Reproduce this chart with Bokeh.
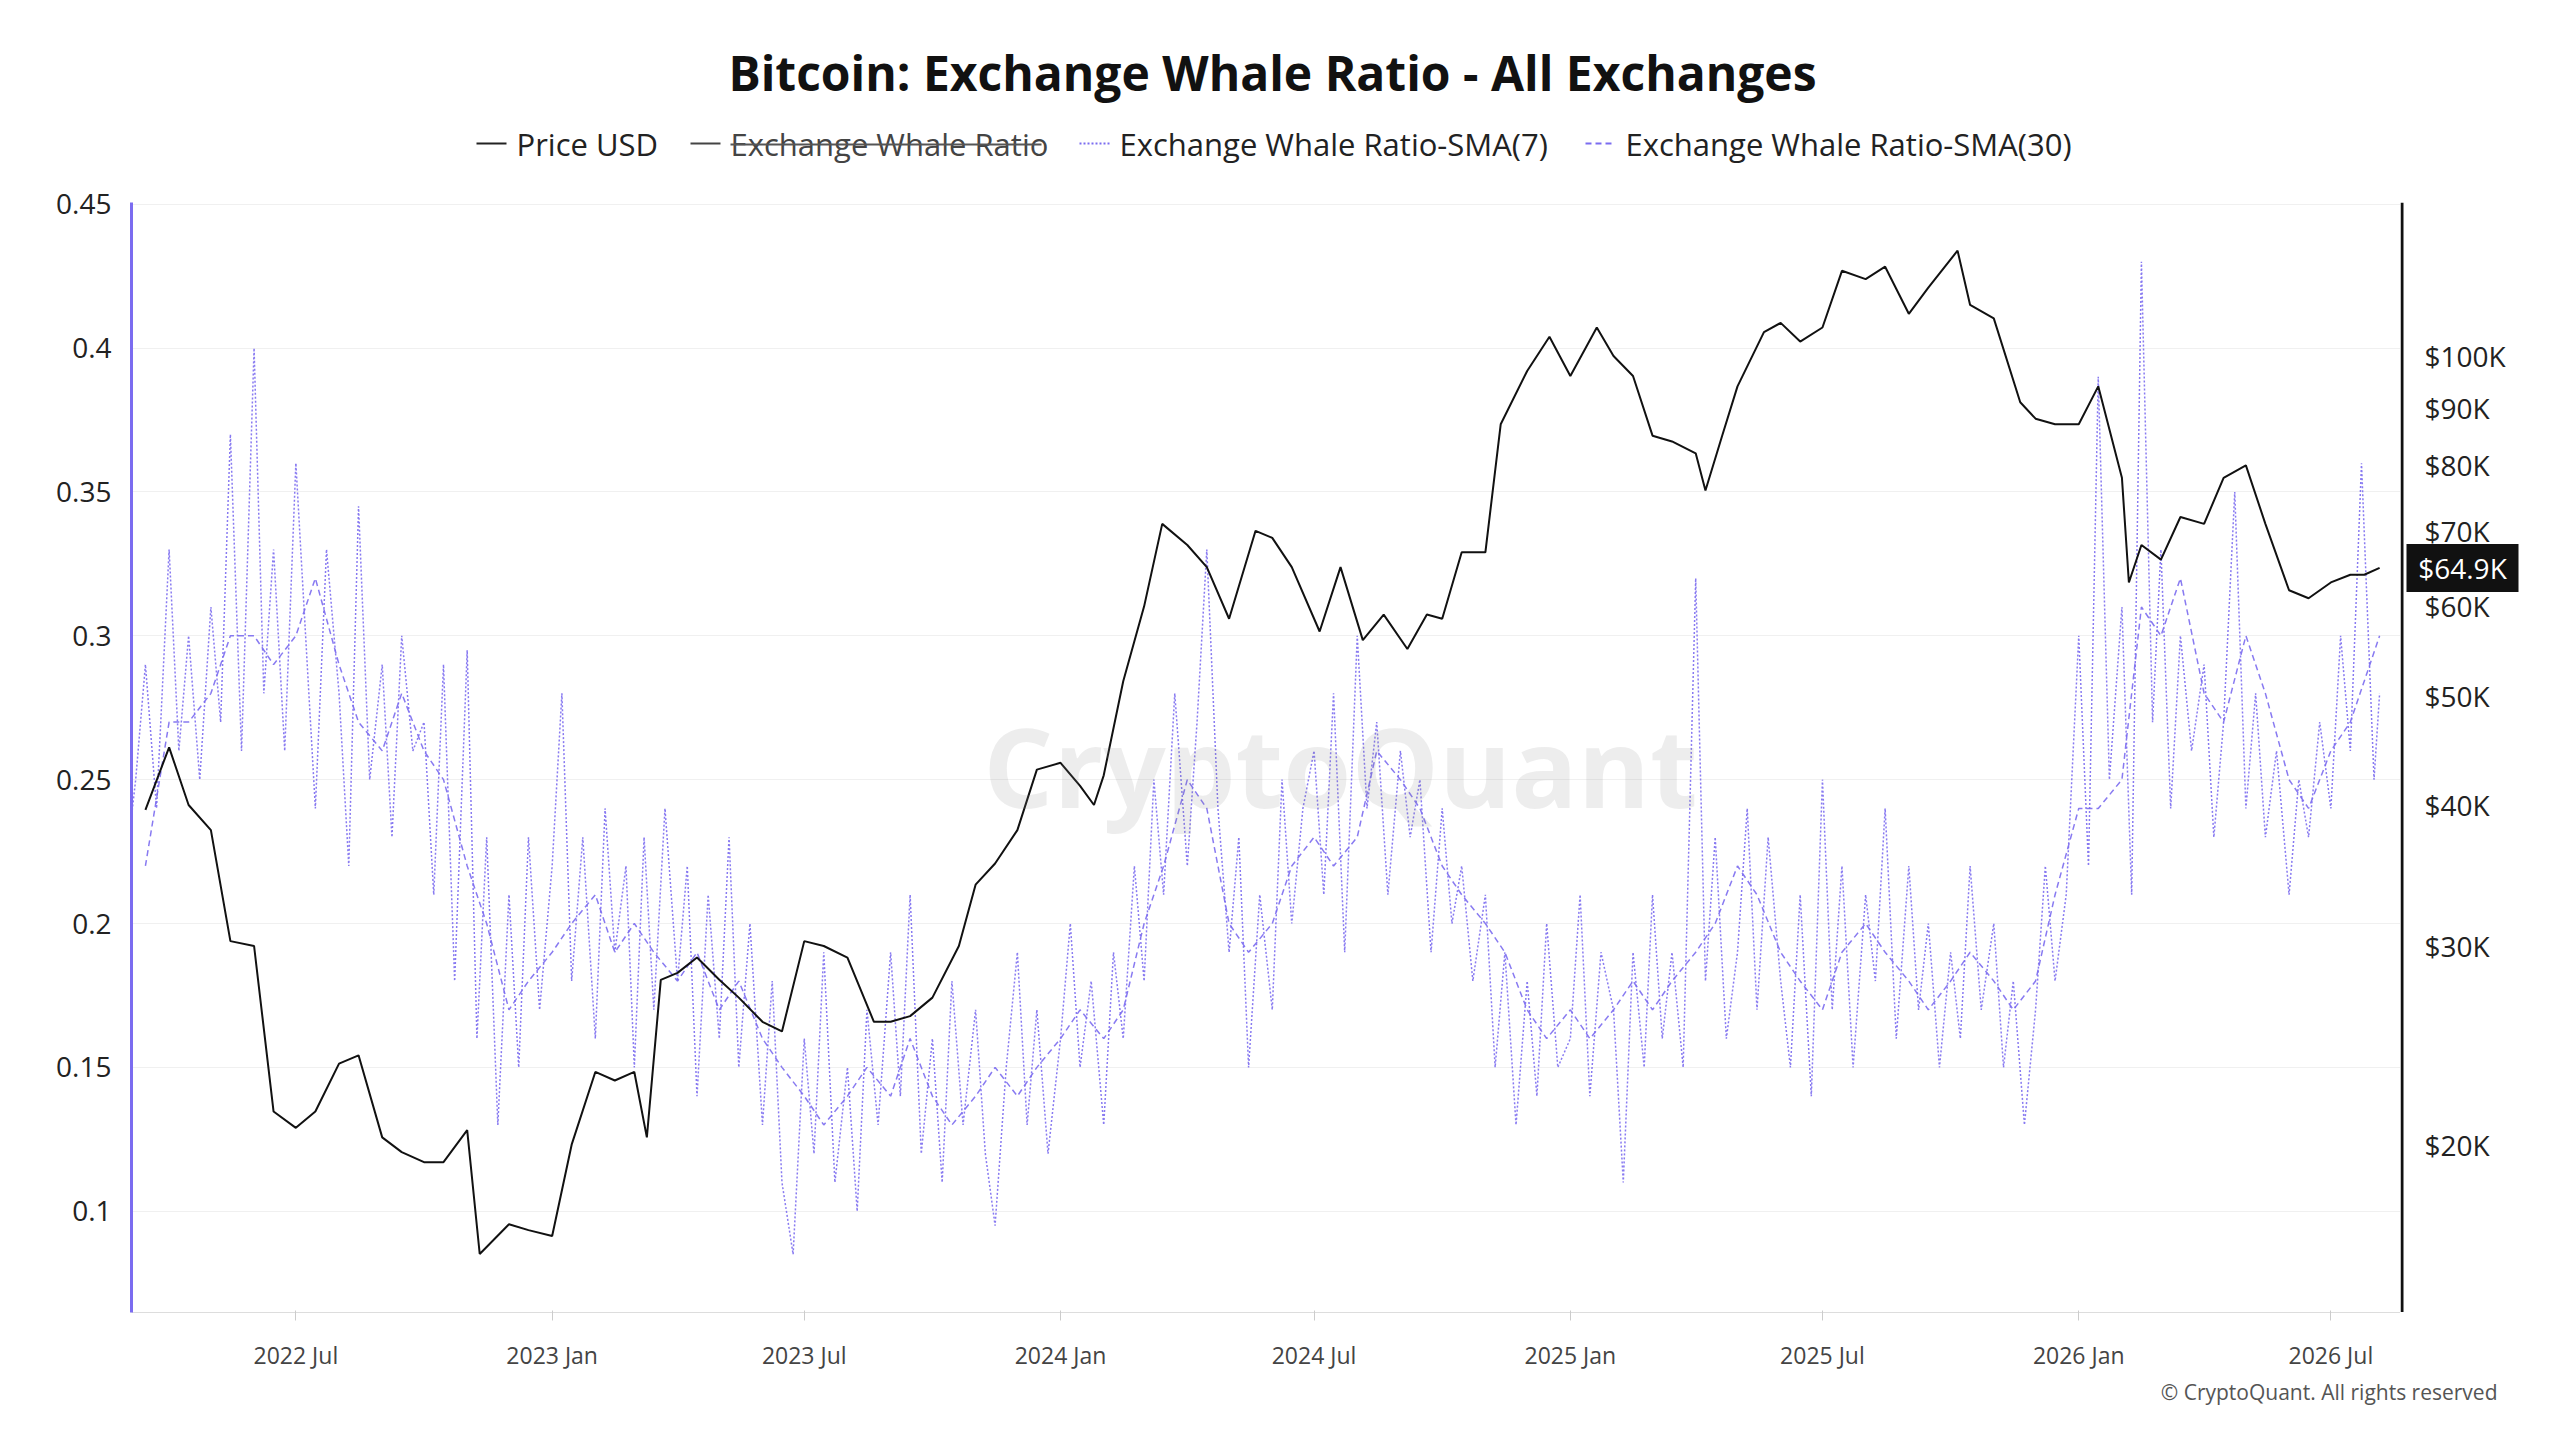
import pandas as pd
from bokeh.plotting import figure
from bokeh.layouts import column, row
from bokeh.core.properties import value
from bokeh.models import (Range1d, LogScale, FixedTicker, DatetimeTickFormatter, Label, Span)
from bokeh.embed import file_html
from bokeh.resources import INLINE

price_dates = ["2022-03-15","2022-04-01","2022-04-15","2022-05-01","2022-05-15","2022-06-01","2022-06-15","2022-07-01","2022-07-15","2022-08-01","2022-08-15","2022-09-01","2022-09-15","2022-10-01","2022-10-15","2022-11-01","2022-11-10","2022-12-01","2022-12-15","2023-01-01","2023-01-15","2023-02-01","2023-02-15","2023-03-01","2023-03-10","2023-03-20","2023-04-01","2023-04-15","2023-05-01","2023-05-15","2023-06-01","2023-06-15","2023-07-01","2023-07-15","2023-08-01","2023-08-20","2023-09-01","2023-09-15","2023-10-01","2023-10-20","2023-11-01","2023-11-15","2023-12-01","2023-12-15","2024-01-01","2024-01-15","2024-01-25","2024-02-01","2024-02-15","2024-03-01","2024-03-14","2024-04-01","2024-04-15","2024-05-01","2024-05-20","2024-06-01","2024-06-15","2024-07-05","2024-07-20","2024-08-05","2024-08-20","2024-09-06","2024-09-20","2024-10-01","2024-10-15","2024-11-01","2024-11-12","2024-12-01","2024-12-17","2025-01-01","2025-01-20","2025-02-01","2025-02-15","2025-03-01","2025-03-15","2025-04-01","2025-04-08","2025-04-20","2025-05-01","2025-05-20","2025-06-01","2025-06-15","2025-07-01","2025-07-15","2025-08-01","2025-08-15","2025-09-01","2025-09-15","2025-10-06","2025-10-15","2025-11-01","2025-11-20","2025-12-01","2025-12-15","2026-01-01","2026-01-15","2026-02-01","2026-02-06","2026-02-15","2026-03-01","2026-03-15","2026-04-01","2026-04-15","2026-05-01","2026-05-15","2026-06-01","2026-06-15","2026-07-01","2026-07-15","2026-07-25","2026-08-05"]
price_k = [39.6,45,40,38,30.3,30,21.4,20.7,21.4,23.6,24,20.3,19.7,19.3,19.3,20.6,16.0,17,16.8,16.6,20,23.2,22.8,23.2,20.3,28,28.4,29.3,28,27,25.7,25.2,30.3,30,29.3,25.7,25.7,26,27,30,34,35.5,38,43,43.6,41.6,40,42.5,51.5,60,71,68,65,58.5,70,69,65,57,65,56,59,55,59,58.5,67,67,87,97,104,96,106,100,96,85,84,82,76,85,94,105,107,103,106,119,117,120,109,115,124,111,108,91,88,87,87,94,78,63,68,66,72,71,78,80,71,62,61,63,64,64,64.9]

sma30_dates = ["2022-03-15"] + [f"{y}-{m:02d}-{d:02d}" for y in range(2022, 2027) for m in range(1, 13) for d in (1, 15)
                                if (y, m) >= (2022, 4) and (y, m) <= (2026, 7)] + ["2026-08-05"]
sma30 = [0.22,0.27,0.27,0.28,0.30,0.30,0.29,0.30,0.32,0.29,0.27,0.26,0.28,0.26,0.25,0.22,0.20,0.17,0.18,
         0.19,0.20,0.21,0.19,0.20,0.19,0.18,0.19,0.17,0.18,0.16,0.15,0.14,0.13,0.14,0.15,0.14,0.16,0.14,0.13,0.14,0.15,0.14,0.15,
         0.16,0.17,0.16,0.17,0.20,0.22,0.25,0.24,0.20,0.19,0.20,0.22,0.23,0.22,0.23,0.26,0.25,0.24,0.22,0.21,0.20,0.19,0.17,0.16,
         0.17,0.16,0.17,0.18,0.17,0.18,0.19,0.20,0.22,0.21,0.19,0.18,0.17,0.19,0.20,0.19,0.18,0.17,0.18,0.19,0.18,0.17,0.18,0.21,
         0.24,0.24,0.25,0.31,0.30,0.32,0.28,0.27,0.30,0.28,0.25,0.24,0.26,0.27,0.30]

sma7_dates = [f"{y}-{m:02d}-{d:02d}" for y in range(2022, 2027) for m in range(1, 13) for d in (1, 8, 15, 23)
              if (y, m) >= (2022, 3) and (y, m) <= (2026, 7)] + ["2026-08-01", "2026-08-05"]
sma7 = [0.22,0.25,0.29,0.24, 0.33,0.26,0.30,0.25, 0.31,0.27,0.37,0.26, 0.40,0.28,0.33,0.26, 0.36,0.30,0.24,0.33,
        0.28,0.22,0.345,0.25, 0.29,0.23,0.30,0.26, 0.27,0.21,0.29,0.18, 0.295,0.16,0.23,0.13, 0.21,0.15,0.23,0.17,
        0.22,0.28,0.18,0.23, 0.16,0.24,0.19,0.22, 0.15,0.23,0.17,0.24, 0.18,0.22,0.14,0.21, 0.16,0.23,0.15,0.20,
        0.13,0.18,0.11,0.085, 0.16,0.12,0.19,0.11, 0.15,0.10,0.17,0.13, 0.19,0.14,0.21,0.12, 0.16,0.11,0.18,0.13,
        0.17,0.12,0.095,0.15, 0.19,0.13,0.17,0.12, 0.16,0.20,0.15,0.18, 0.13,0.19,0.16,0.22, 0.18,0.25,0.21,0.28,
        0.22,0.27,0.33,0.24, 0.19,0.23,0.15,0.21, 0.17,0.25,0.20,0.24, 0.26,0.21,0.28,0.19, 0.30,0.24,0.27,0.21,
        0.26,0.23,0.25,0.19, 0.24,0.20,0.22,0.18, 0.21,0.15,0.19,0.13, 0.18,0.14,0.20,0.15, 0.16,0.21,0.14,0.19,
        0.17,0.11,0.19,0.15, 0.21,0.16,0.19,0.15, 0.32,0.18,0.23,0.16, 0.19,0.24,0.17,0.23, 0.18,0.15,0.21,0.14,
        0.25,0.17,0.22,0.15, 0.21,0.18,0.24,0.16, 0.22,0.17,0.20,0.15, 0.19,0.16,0.22,0.17, 0.20,0.15,0.18,0.13,
        0.17,0.22,0.18,0.21, 0.30,0.22,0.39,0.25, 0.31,0.21,0.43,0.27, 0.33,0.24,0.30,0.26, 0.29,0.23,0.27,0.35,
        0.24,0.28,0.23,0.26, 0.21,0.25,0.23,0.27, 0.24,0.30,0.26,0.36, 0.25,0.28]

left_ticks = [0.1, 0.15, 0.2, 0.25, 0.3, 0.35, 0.4, 0.45]
price_ticks = [20, 30, 40, 50, 60, 70, 80, 90, 100]
price_tick_labels = ["$20K", "$30K", "$40K", "$50K", "$60K", "$70K", "$80K", "$90K", "$100K"]
x_tick_labels = ["2022-07-01","2023-01-01","2023-07-01","2024-01-01","2024-07-01","2025-01-01","2025-07-01","2026-01-01","2026-07-01"]
legend_labels = ["Price USD", "Exchange Whale Ratio", "Exchange Whale Ratio-SMA(7)", "Exchange Whale Ratio-SMA(30)"]
title_text = "Bitcoin: Exchange Whale Ratio - All Exchanges"
last_price = "$64.9K"
last_price_value = 64.9

assert len(price_dates) == len(price_k)
assert len(sma30_dates) == len(sma30)
assert len(sma7_dates) == len(sma7)

FONT = "Open Sans"
PURPLE = "#7b6cf0"
W = 2540
MAIN_W = 2400
FH = 1110
TOP = 22
td = lambda s: pd.to_datetime(s)
LEFT_LO, LEFT_HI = 0.0648, 0.4506
P_LO, P_HI = 14.2, 136.8

# ---------- header (title + legend) ----------
HH = 180
h = figure(width=W, height=HH, x_range=Range1d(0, W), y_range=Range1d(HH, 0), output_backend="svg",
           toolbar_location=None, x_axis_location=None, y_axis_location=None,
           min_border_left=0, min_border_right=0, min_border_top=0, min_border_bottom=0)
h.grid.visible = False
h.outline_line_color = None
h.text(x=[1272], y=[72], text=[title_text], text_font=value(FONT), text_font_size="48px",
       text_font_style="bold", text_color="#111111", text_align="center", text_baseline="middle")
ly = 143
leg_x = [476, 690, 1079, 1585]
leg_colors = ["#222222", "#444444", PURPLE, PURPLE]
leg_dash = ["solid", "solid", "2 2", "6 4"]
for xx, lab, c, d in zip(leg_x, legend_labels, leg_colors, leg_dash):
    h.line([xx, xx + 30], [ly, ly], line_color=c, line_width=2, line_dash=d)
    h.text(x=[xx + 40], y=[ly], text=[lab], text_font=value(FONT), text_font_size="31px",
           text_color="#444444" if lab == "Exchange Whale Ratio" else "#222222", text_baseline="middle")
h.line([730, 1041], [ly + 1, ly + 1], line_color="#555555", line_width=2)

# ---------- main plot ----------
p = figure(width=MAIN_W, frame_height=FH, x_axis_type="datetime", output_backend="svg", toolbar_location=None,
           x_range=Range1d(td("2022-03-05"), td("2026-08-20")), y_range=Range1d(LEFT_LO, LEFT_HI),
           min_border_left=131, min_border_right=0, min_border_bottom=10, min_border_top=TOP)
p.extra_y_ranges = {"price": Range1d(P_LO, P_HI)}
p.extra_y_scales = {"price": LogScale()}
p.outline_line_color = None

p.line(pd.to_datetime(sma7_dates), sma7, line_color=PURPLE, line_width=1.5, line_dash="2 2", line_alpha=0.9)
p.line(pd.to_datetime(sma30_dates), sma30, line_color=PURPLE, line_width=1.5, line_dash="6 4", line_alpha=0.9)
p.line(pd.to_datetime(price_dates), price_k, line_color="#111111", line_width=2, y_range_name="price")

ya = p.yaxis[0]
ya.ticker = FixedTicker(ticks=left_ticks)
ya.axis_line_color = PURPLE
ya.axis_line_width = 3
ya.major_tick_line_color = None
ya.minor_tick_line_color = None
ya.major_label_text_font = FONT
ya.major_label_text_font_size = "28px"
ya.major_label_text_color = "#222222"
ya.major_label_standoff = 14

xa = p.xaxis[0]
xa.ticker = FixedTicker(ticks=[td(s).value // 10**6 for s in x_tick_labels])
xa.formatter = DatetimeTickFormatter(months="%Y %b", days="%Y %b", years="%Y %b")
xa.axis_line_color = "#dddddd"
xa.major_tick_line_color = "#cccccc"
xa.major_tick_out = 8
xa.minor_tick_line_color = None
xa.major_label_text_font = FONT
xa.major_label_text_font_size = "23px"
xa.major_label_text_color = "#444444"
xa.major_label_standoff = 18

p.xgrid.grid_line_color = None
p.ygrid.grid_line_color = "#f0f0f0"
p.ygrid.ticker = FixedTicker(ticks=left_ticks)

p.add_layout(Label(x=td("2024-07-20"), y=0.255, text="CryptoQuant", text_font=FONT, text_font_size="110px",
                   text_font_style="bold", text_color="#888888", text_alpha=0.15, text_align="center",
                   text_baseline="middle"))

# ---------- right price axis panel ----------
RW = W - MAIN_W
r = figure(frame_width=RW, frame_height=FH, y_axis_type="log", x_range=Range1d(0, RW),
           y_range=Range1d(P_LO, P_HI), output_backend="svg", toolbar_location=None,
           x_axis_location=None, y_axis_location=None,
           min_border_left=0, min_border_right=0, min_border_top=TOP, min_border_bottom=0)
r.grid.visible = False
r.outline_line_color = None
r.add_layout(Span(location=1.5, dimension="height", line_color="#111111", line_width=3))
r.text(x=[24] * len(price_ticks), y=price_ticks, text=price_tick_labels, text_font=value(FONT),
       text_font_size="28px", text_color="#222222", text_baseline="middle")
r.rect(x=[62], y=[last_price_value], width=112, height=48, height_units="screen",
       fill_color="#111111", line_color=None)
r.text(x=[62], y=[last_price_value], text=[last_price], text_font=value(FONT), text_font_size="28px",
       text_color="white", text_align="center", text_baseline="middle")

copyright = figure(width=W, height=40, x_range=Range1d(0, W), y_range=Range1d(0, 40), output_backend="svg",
                   toolbar_location=None, x_axis_location=None, y_axis_location=None,
                   min_border_left=0, min_border_right=0, min_border_top=0, min_border_bottom=0)
copyright.grid.visible = False
copyright.outline_line_color = None
copyright.text(x=[2497], y=[22], text=["© CryptoQuant. All rights reserved"], text_font=value(FONT),
               text_font_size="21px", text_color="#555555", text_align="right", text_baseline="middle")

layout = column(h, row(p, r, spacing=0), copyright, spacing=0)
open("out.html", "w").write(file_html(layout, INLINE))
